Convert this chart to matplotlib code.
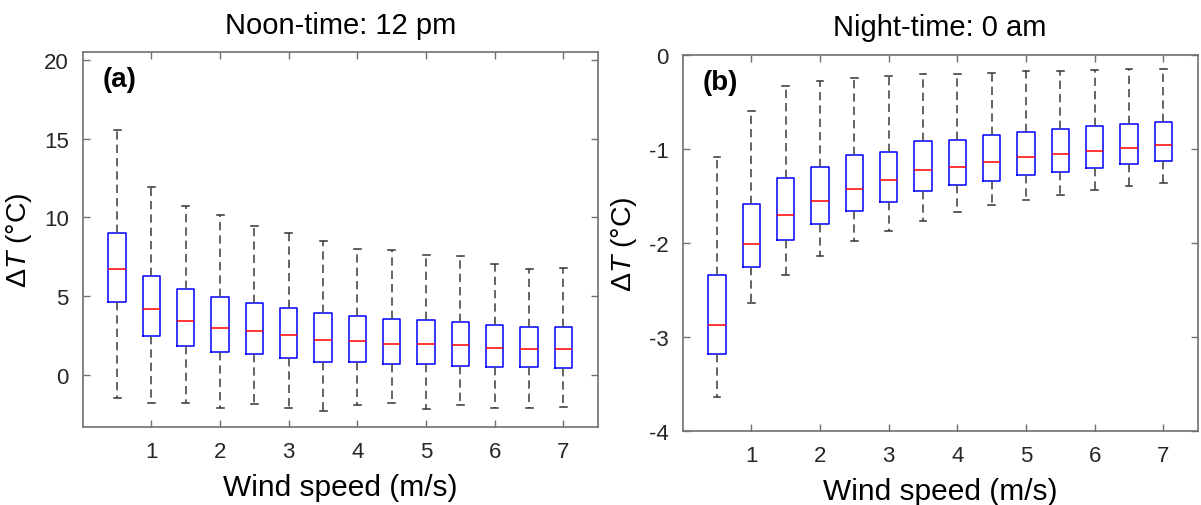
import matplotlib
matplotlib.use("Agg")
import matplotlib.pyplot as plt

plt.rcParams['font.family'] = ['Liberation Sans', 'DejaVu Sans']
plt.rcParams['mathtext.fontset'] = 'custom'
plt.rcParams['mathtext.it'] = 'Liberation Sans:italic'
plt.rcParams['mathtext.rm'] = 'Liberation Sans'

# wind speed bins (m/s)
wind = [0.5, 1.0, 1.5, 2.0, 2.5, 3.0, 3.5, 4.0, 4.5, 5.0, 5.5, 6.0, 6.5, 7.0]

# (a) noon-time, 12 pm
noon_whislo = [-1.46, -1.82, -1.82, -2.14, -1.84, -2.12, -2.29, -1.93, -1.78, -2.18, -1.95, -2.10, -2.12, -2.05]
noon_q1 = [4.64, 2.48, 1.84, 1.42, 1.29, 1.06, 0.83, 0.79, 0.68, 0.66, 0.57, 0.47, 0.47, 0.45]
noon_med = [6.71, 4.19, 3.41, 2.95, 2.78, 2.50, 2.23, 2.12, 1.95, 1.93, 1.87, 1.72, 1.63, 1.61]
noon_q3 = [9.00, 6.25, 5.44, 4.92, 4.56, 4.26, 3.90, 3.73, 3.56, 3.45, 3.35, 3.18, 3.03, 3.05]
noon_whishi = [15.55, 11.95, 10.72, 10.17, 9.45, 9.00, 8.49, 8.01, 7.90, 7.63, 7.52, 7.01, 6.72, 6.76]

# (b) night-time, 0 am
night_whislo = [-3.64, -2.645, -2.34, -2.14, -1.986, -1.872, -1.766, -1.677, -1.603, -1.546, -1.489, -1.443, -1.401, -1.365]
night_q1 = [-3.18, -2.255, -1.975, -1.80, -1.667, -1.564, -1.45, -1.39, -1.344, -1.277, -1.248, -1.209, -1.167, -1.131]
night_med = [-2.876, -2.01, -1.705, -1.553, -1.433, -1.333, -1.225, -1.195, -1.138, -1.092, -1.053, -1.021, -0.989, -0.957]
night_q3 = [-2.34, -1.59, -1.316, -1.19, -1.064, -1.032, -0.915, -0.908, -0.851, -0.826, -0.794, -0.762, -0.738, -0.716]
night_whishi = [-1.085, -0.596, -0.33, -0.284, -0.252, -0.23, -0.209, -0.205, -0.191, -0.17, -0.174, -0.163, -0.156, -0.149]

xticks = [1, 2, 3, 4, 5, 6, 7]
axis_color = '#707070'
text_color = '#262626'


def make_stats(lo, q1, med, q3, hi):
    return [dict(whislo=a, q1=b, med=c, q3=d, whishi=e, fliers=[])
            for a, b, c, d, e in zip(lo, q1, med, q3, hi)]


def draw_panel(ax, stats, ylim, yticks, title, tag):
    ax.bxp(stats, positions=wind, widths=0.25, showfliers=False,
           boxprops=dict(color='#0000ff', linewidth=1.1),
           medianprops=dict(color='#ff0000', linewidth=1.1),
           whiskerprops=dict(color='#4a4a4a', linewidth=1.2, linestyle=(0, (5, 3))),
           capprops=dict(color='#333333', linewidth=1.1),
           capwidths=0.1)
    ax.set_xlim(0, 7.5)
    ax.set_ylim(*ylim)
    ax.set_xticks(xticks)
    ax.set_xticklabels([str(t) for t in xticks])
    ax.set_yticks(yticks)
    ax.set_yticklabels([str(t) for t in yticks])
    ax.tick_params(direction='in', length=5, width=1.0, color=axis_color,
                   labelsize=16, labelcolor=text_color,
                   top=True, right=True, pad=10)
    for s in ax.spines.values():
        s.set_color(axis_color)
        s.set_linewidth(1.2)
    ax.set_xlabel('Wind speed (m/s)', fontsize=21.5, color='black', labelpad=8)
    ax.set_ylabel(r'$\Delta$$T$ (°C)', fontsize=20.5, color='black', labelpad=7)
    ax.set_title(title, fontsize=21, pad=14)
    ax.text(0.038, 0.928, tag, transform=ax.transAxes, fontsize=20,
            fontweight='bold', va='center', ha='left')


fig = plt.figure(figsize=(12.01, 5.06), dpi=100)
ax1 = fig.add_axes([0.0689, 0.1542, 0.4288, 0.7405])
ax2 = fig.add_axes([0.5684, 0.1468, 0.4288, 0.7431])

draw_panel(ax1, make_stats(noon_whislo, noon_q1, noon_med, noon_q3, noon_whishi),
           (-3.32, 20.48), [0, 5, 10, 15, 20], 'Noon-time: 12 pm', '(a)')
draw_panel(ax2, make_stats(night_whislo, night_q1, night_med, night_q3, night_whishi),
           (-4, 0), [-4, -3, -2, -1, 0], 'Night-time: 0 am', '(b)')

fig.savefig('out.png', dpi=100)
